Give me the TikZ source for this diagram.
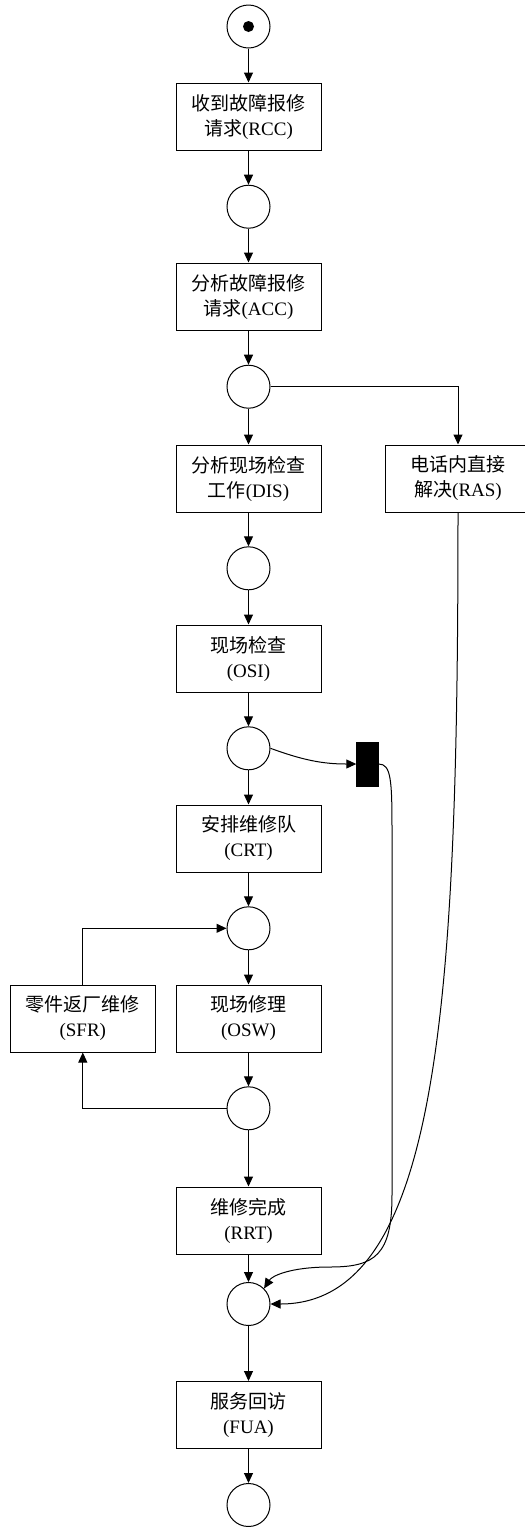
\documentclass[tikz,border=0pt]{standalone}
\usepackage{fontspec}
\setmainfont{Liberation Serif}
\newfontfamily\cjkfont{Noto Sans CJK SC}
\usetikzlibrary{arrows.meta}
\def\zh#1{{\cjkfont #1}}
\tikzset{
	place/.style={draw, circle, line width=1pt, minimum size=43pt, inner sep=0pt},
	trans/.style={draw, rectangle, line width=1pt, minimum width=145pt, minimum height=67pt, inner sep=0pt, align=center, font=\fontsize{19}{25}\selectfont},
	blackbar/.style={draw=black, fill=black, minimum width=22pt, minimum height=44pt, inner sep=0pt},
	flowarrow/.style={line width=1pt, -{Triangle[length=10pt,width=9pt]}}
}

\begin{document}
\begin{tikzpicture}[x=1pt, y=-1pt]
		%%%%% START %%%%%
		
		\useasboundingbox (0, 0) rectangle (525, 1527);
		
		\node[place] (p0) at (248.5, 26.5) {};
		\fill (p0) circle (5.5pt);
		\node[trans] (rcc) at (248.5, 116.5) {\zh{收到故障报修}\\\zh{请求}(RCC)};
		\node[place] (p1) at (248.5, 206.7) {};
		\node[trans] (acc) at (248.5, 296.5) {\zh{分析故障报修}\\\zh{请求}(ACC)};
		\node[place] (p2) at (248.5, 386.7) {};
		
		\node[trans] (dis) at (248.5, 478.5) {\zh{分析现场检查}\\\zh{工作}(DIS)};
		\node[trans] (ras) at (458, 478.5) {\zh{电话内直接}\\\zh{解决}(RAS)};
		\node[place] (p3) at (248.5, 568.3) {};
		\node[trans] (osi) at (248.5, 658.5) {\zh{现场检查}\\(OSI)};
		\node[place] (p4) at (248.5, 748.3) {};
		\node[blackbar] (bar) at (367.5, 764) {};
		
		\node[trans] (crt) at (248.5, 838.5) {\zh{安排维修队}\\(CRT)};
		\node[place] (p5) at (248.5, 928.3) {};
		\node[trans] (sfr) at (82.8, 1018.5) {\zh{零件返厂维修}\\(SFR)};
		\node[trans] (osw) at (248.5, 1018.5) {\zh{现场修理}\\(OSW)};
		\node[place] (p6) at (248.5, 1108.3) {};
		
		\node[trans] (rrt) at (248.5, 1220.5) {\zh{维修完成}\\(RRT)};
		\node[place] (p7) at (248.5, 1304) {};
		\node[trans] (fua) at (248.5, 1415) {\zh{服务回访}\\(FUA)};
		\node[place] (p8) at (248.5, 1505) {};
		
		\draw[flowarrow] (p0.south) -- (rcc.north);
		\draw[flowarrow] (rcc.south) -- (p1.north);
		\draw[flowarrow] (p1.south) -- (acc.north);
		\draw[flowarrow] (acc.south) -- (p2.north);
		\draw[flowarrow] (p2.south) -- (dis.north);
		\draw[flowarrow] (p2.east) -| (ras.north);
		\draw[flowarrow] (dis.south) -- (p3.north);
		\draw[flowarrow] (p3.south) -- (osi.north);
		\draw[flowarrow] (osi.south) -- (p4.north);
		\draw[flowarrow] (p4.south) -- (crt.north);
		\draw[flowarrow] (p4.east) to[out=-20, in=180] (bar.west);
		\draw[flowarrow] (crt.south) -- (p5.north);
		\draw[flowarrow] (p5.south) -- (osw.north);
		\draw[flowarrow] (osw.south) -- (p6.north);
		\draw[flowarrow] (p6.west) -| (sfr.south);
		\draw[flowarrow] (sfr.north) |- (p5.west);
		\draw[flowarrow] (p6.south) -- (rrt.north);
		\draw[flowarrow] (rrt.south) -- (p7.north);
		\draw[flowarrow] (p7.south) -- (fua.north);
		\draw[flowarrow] (fua.south) -- (p8.north);
		
		\draw[flowarrow] (bar.east) .. controls (391, 764) and (392, 780) .. (392, 830) -- (392, 1195) .. controls (392, 1255) and (375, 1267) .. (330, 1267) .. controls (290, 1267) and (272, 1276) .. (p7.north east);
		\draw[flowarrow] (ras.south) .. controls (458, 1000) and (440, 1304) .. (p7.east);
		
		%%%%% END %%%%%
\end{tikzpicture}
\end{document}
